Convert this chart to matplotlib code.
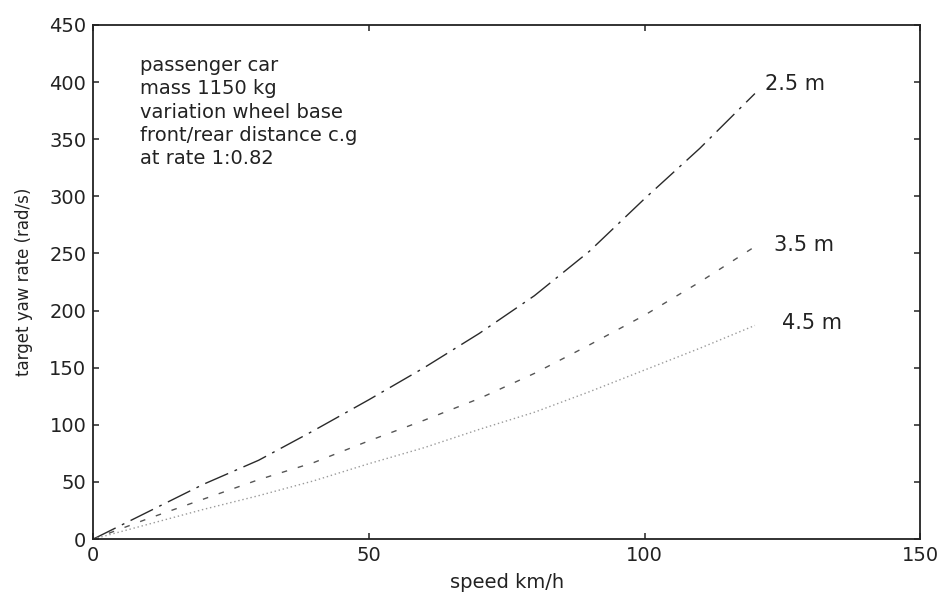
import matplotlib
matplotlib.use("Agg")
import matplotlib.pyplot as plt

speed = [0, 10, 20, 30, 40, 50, 60, 70, 80, 90, 100, 110, 120]
yaw_25 = [0, 24, 48, 69, 95, 122, 150, 180, 213, 252, 298, 342, 390]
yaw_35 = [0, 18, 35, 52, 67, 86, 104, 123, 145, 170, 196, 225, 256]
yaw_45 = [0, 13, 26, 38, 51, 66, 80, 96, 111, 129, 148, 167, 187]
series_labels = ["2.5 m", "3.5 m", "4.5 m"]
info_text = "passenger car\nmass 1150 kg\nvariation wheel base\nfront/rear distance c.g\nat rate 1:0.82"
xticks = [0, 50, 100, 150]
yticks = [0, 50, 100, 150, 200, 250, 300, 350, 400, 450]

plt.rcParams['font.family'] = ['DejaVu Sans']
fig = plt.figure(figsize=(9.42, 5.95), dpi=100)
ax = fig.add_axes([0.099, 0.094, 0.878, 0.864])

ax.plot(speed, yaw_25, color="#2a2a2a", lw=1.0, dashes=(18, 5, 2, 5))
ax.plot(speed, yaw_35, color="#555555", lw=1.0, dashes=(4, 8))
ax.plot(speed, yaw_45, color="#9a9a9a", lw=1.0, dashes=(1, 2))

ax.set_xlim(0, 150)
ax.set_ylim(0, 450)
ax.set_xticks(xticks)
ax.set_yticks(yticks)
ax.tick_params(direction="in", length=4.5, width=1.1, top=True, right=True,
               labelsize=14, colors="#222222", pad=5)
for s in ax.spines.values():
    s.set_linewidth(1.3)
    s.set_color("#222222")

ax.set_xlabel("speed km/h", fontsize=14, color="#222222", labelpad=6)
ax.set_ylabel("target yaw rate (rad/s)", fontsize=12, color="#222222", labelpad=12)

ax.text(8.4, 423, info_text, fontsize=14, va="top", ha="left",
        color="#222222", linespacing=1.29)
ax.text(121.8, 398, series_labels[0], fontsize=15, va="center", ha="left", color="#222222")
ax.text(123.5, 257, series_labels[1], fontsize=15, va="center", ha="left", color="#222222")
ax.text(125.0, 189, series_labels[2], fontsize=15, va="center", ha="left", color="#222222")

fig.savefig("out.png", dpi=100, facecolor="white")
